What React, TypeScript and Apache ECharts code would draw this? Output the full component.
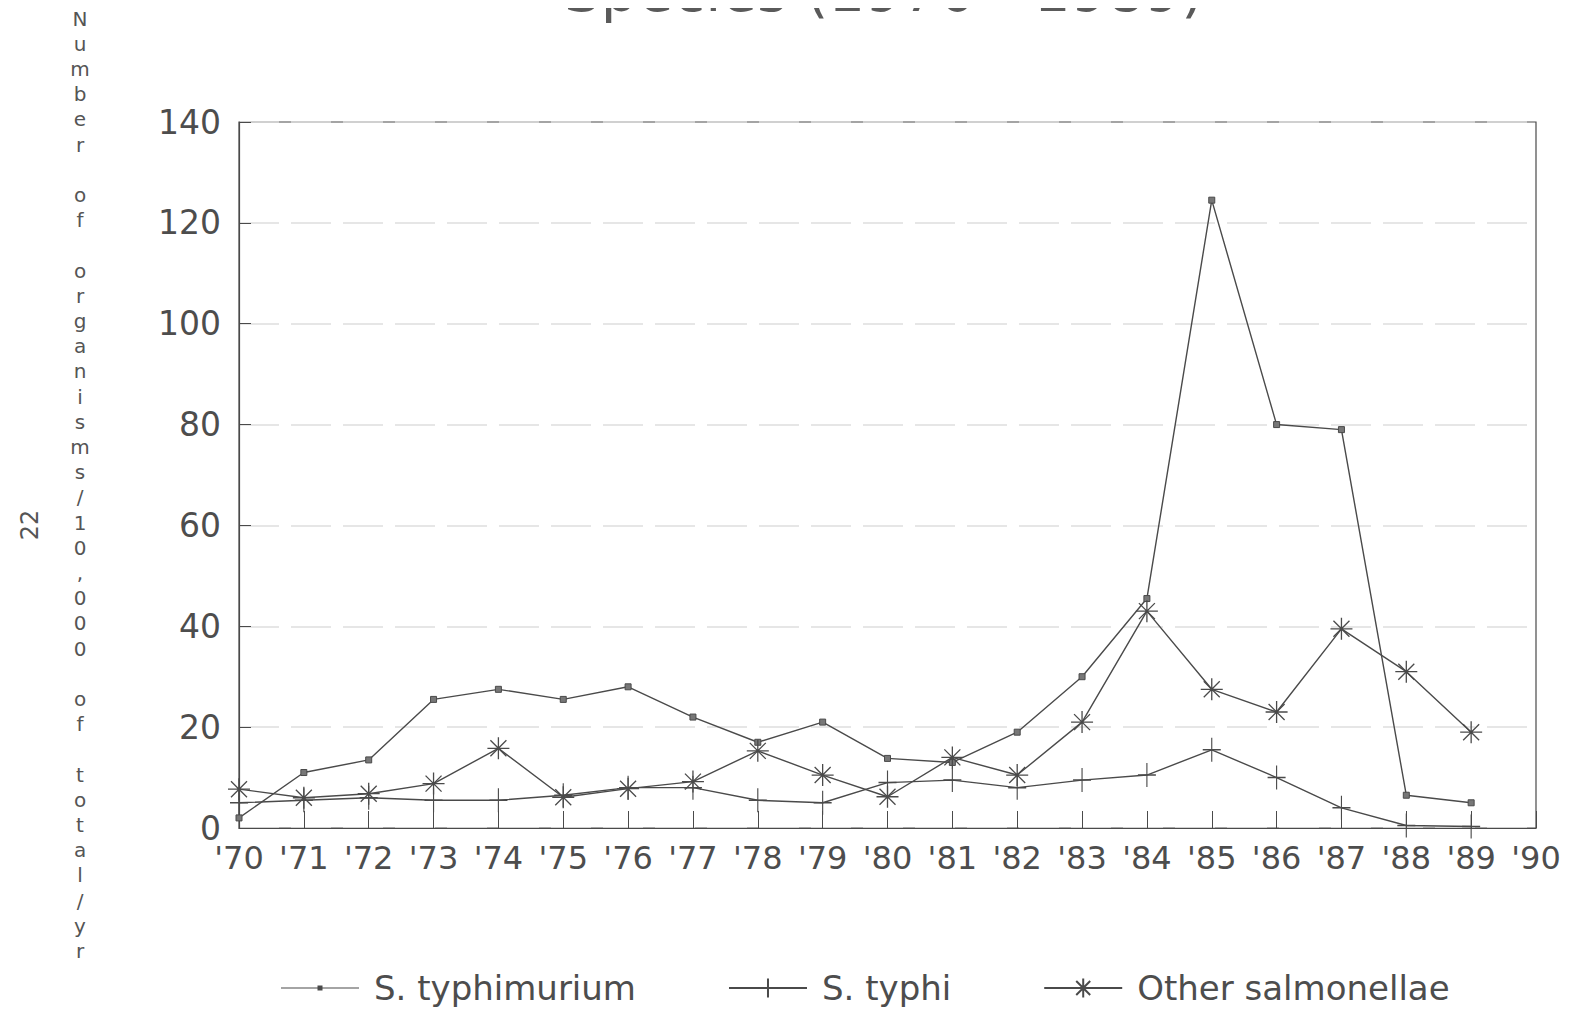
import React, { useEffect, useRef } from "react";
import * as echarts from "echarts";

const years = [1970, 1971, 1972, 1973, 1974, 1975, 1976, 1977, 1978, 1979, 1980, 1981, 1982, 1983, 1984, 1985, 1986, 1987, 1988, 1989];
const xTickLabels = ["'70", "'71", "'72", "'73", "'74", "'75", "'76", "'77", "'78", "'79", "'80", "'81", "'82", "'83", "'84", "'85", "'86", "'87", "'88", "'89", "'90"];
const typhimurium = [2, 11, 13.5, 25.5, 27.5, 25.5, 28, 22, 17, 21, 13.8, 13, 19, 30, 45.5, 124.5, 80, 79, 6.5, 5];
const typhi = [5, 5.5, 6, 5.5, 5.5, 6.5, 8, 8, 5.5, 5, 9, 9.5, 8, 9.5, 10.5, 15.5, 10, 4, 0.5, 0.3];
const other = [7.7, 6, 6.8, 8.8, 15.8, 6.1, 7.8, 9.2, 15.3, 10.5, 6.2, 14, 10.5, 21, 43, 27.5, 23, 39.5, 31, 19];
const seriesNames = ["S. typhimurium", "S. typhi", "Other salmonellae"];
const title = "Species (1970 - 1989)";
const yTitle = "Number of organisms/10,000 of total/yr";
const pageNo = "22";

const INK = "#4a4a4a";
const TXT = "#4d4d4d";
const FONT = "'DejaVu Sans', sans-serif";
const PLUS = "path://M10,0 L10,26 M0,13 L20,13";
const STAR = "path://M11,0 L11,22 M0,11 L22,11 M3,3 L19,19 M19,3 L3,19";
const LEGEND_SQ = "path://M0,0 M78,24 M0,11.4 L78,11.4 L78,12.6 L0,12.6 Z M36.5,9.5 L41.5,9.5 L41.5,14.5 L36.5,14.5 Z";

export default function App() {
  const ref = useRef<HTMLDivElement>(null);
  useEffect(() => {
    const chart = echarts.init(ref.current!, null, { renderer: "svg" });
    const pairs = (arr: number[]) => years.map((y, i) => [y, arr[i]]);
    const lineStyle = { color: INK, width: 1.4 };
    chart.setOption({
      animation: false,
      backgroundColor: "#ffffff",
      grid: { left: 239, right: 38, top: 122, bottom: 187, show: true, borderColor: INK, borderWidth: 1.2, backgroundColor: "transparent" },
      xAxis: {
        type: "value", min: 1970, max: 1990, interval: 1,
        axisLine: { show: true, lineStyle: { color: INK, width: 1.2 } },
        axisTick: { show: true, inside: true, length: 17, lineStyle: { color: INK, width: 1 } },
        splitLine: { show: false },
        axisLabel: {
          color: TXT, fontSize: 32, fontFamily: FONT, margin: 14,
          formatter: (v: number) => xTickLabels[Math.round(v - 1970)] ?? "",
        },
      },
      yAxis: {
        type: "value", min: 0, max: 140, interval: 20,
        axisLine: { show: true, lineStyle: { color: INK, width: 1.2 } },
        axisTick: { show: true, inside: true, length: 12, lineStyle: { color: INK, width: 1 } },
        splitLine: { show: true, lineStyle: { color: "#dedede", width: 1.5, type: [40, 12] } },
        axisLabel: { color: TXT, fontSize: 33, fontFamily: FONT, margin: 18 },
      },
      legend: {
        left: 276, top: 966, itemWidth: 78, itemHeight: 24, itemGap: 92,
        textStyle: { color: TXT, fontSize: 34, fontFamily: FONT, padding: [0, 0, 0, 10] },
        data: [
          { name: seriesNames[0], icon: LEGEND_SQ, itemStyle: { color: INK, borderWidth: 0 } },
          { name: seriesNames[1] },
          { name: seriesNames[2] },
        ],
      },
      series: [
        {
          name: seriesNames[0], type: "line", data: pairs(typhimurium),
          symbol: "rect", symbolSize: 6, lineStyle,
          itemStyle: { color: "#777", borderColor: INK, borderWidth: 1 },
        },
        {
          name: seriesNames[1], type: "line", data: pairs(typhi),
          symbol: PLUS, symbolSize: [18, 24], lineStyle,
          itemStyle: { color: "transparent", borderColor: INK, borderWidth: 1.3 },
        },
        {
          name: seriesNames[2], type: "line", data: pairs(other),
          symbol: STAR, symbolSize: 22, lineStyle,
          itemStyle: { color: "transparent", borderColor: INK, borderWidth: 1.3 },
        },
      ],
      graphic: [
        {
          type: "text", x: 884, y: 20,
          style: { text: title, fontSize: 58, fontFamily: FONT, fill: "#5a5a5a", align: "center", verticalAlign: "bottom" },
        },
        {
          type: "text", x: 80, y: 6,
          style: {
            text: yTitle.split("").join("\n"), fontSize: 20, lineHeight: 25.2,
            fontFamily: FONT, fill: "#555", align: "center",
          },
        },
        {
          type: "text", x: 30, y: 525, rotation: Math.PI / 2,
          style: { text: pageNo, fontSize: 24, fontFamily: FONT, fill: "#555", align: "center", verticalAlign: "middle" },
        },
      ],
    });
    return () => chart.dispose();
  }, []);
  return <div ref={ref} style={{ width: 1574, height: 1015, margin: -8 }} />;
}
